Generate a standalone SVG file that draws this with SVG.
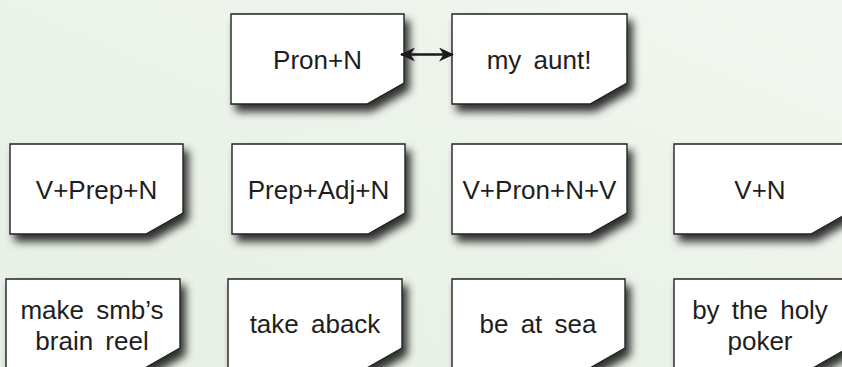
<svg xmlns="http://www.w3.org/2000/svg" width="842" height="367" viewBox="0 0 842 367">
  <defs>
    <linearGradient id="bg" x1="0" y1="1" x2="1" y2="0">
      <stop offset="0" stop-color="#e7f0e4"/>
      <stop offset="0.55" stop-color="#ecf3ea"/>
      <stop offset="1" stop-color="#f3f7f1"/>
    </linearGradient>
    <filter id="shadow" x="-10%" y="-10%" width="130%" height="140%">
      <feGaussianBlur in="SourceAlpha" stdDeviation="4.5"/>
      <feOffset dx="5" dy="7" result="blur"/>
      <feComponentTransfer>
        <feFuncA type="linear" slope="0.8"/>
      </feComponentTransfer>
      <feMerge>
        <feMergeNode/>
        <feMergeNode in="SourceGraphic"/>
      </feMerge>
    </filter>
    <marker id="head" viewBox="0 0 15 14" refX="14" refY="7" markerWidth="15" markerHeight="14" markerUnits="userSpaceOnUse" orient="auto-start-reverse">
      <path d="M0,0 L15,7 L0,14 L4.5,7 Z" fill="#1a1a1a"/>
    </marker>
  </defs>
  <style>
    .card { fill: #ffffff; stroke: #222222; stroke-width: 1.4; filter: url(#shadow); }
    .lbl { font-family: "Liberation Sans", Arial, sans-serif; font-size: 26px; fill: #1e1e1e; text-anchor: middle; word-spacing: 5px; }
    .link { stroke: #1a1a1a; stroke-width: 2.6; fill: none; }
  </style>

  <rect width="842" height="367" fill="url(#bg)"/>

  <!-- top row -->
  <g id="pron-n">
    <path class="card" d="M231,14 H404 V83 L367,104 H231 Z"/>
    <text class="lbl" x="317.5" y="69">Pron+N</text>
  </g>
  <g id="my-aunt">
    <path class="card" d="M452,14 H627 V83 L590,104 H452 Z"/>
    <text class="lbl" x="539" y="69">my aunt!</text>
  </g>

  <!-- middle row: patterns -->
  <g id="v-prep-n">
    <path class="card" d="M10,144 H183 V213 L146,234 H10 Z"/>
    <text class="lbl" x="96.5" y="199">V+Prep+N</text>
  </g>
  <g id="prep-adj-n">
    <path class="card" d="M232,144 H405 V213 L368,234 H232 Z"/>
    <text class="lbl" x="318.5" y="199">Prep+Adj+N</text>
  </g>
  <g id="v-pron-n-v">
    <path class="card" d="M452,144 H627 V213 L590,234 H452 Z"/>
    <text class="lbl" x="539.5" y="199">V+Pron+N+V</text>
  </g>
  <g id="v-n">
    <path class="card" d="M674,144 H848 V213 L811,234 H674 Z"/>
    <text class="lbl" x="760" y="199">V+N</text>
  </g>

  <!-- bottom row: phrases -->
  <g id="brain-reel">
    <path class="card" d="M6,279 H180 V348 L143,369 H6 Z"/>
    <text class="lbl" x="92" y="319">make smb’s</text>
    <text class="lbl" x="92" y="350">brain reel</text>
  </g>
  <g id="take-aback">
    <path class="card" d="M228,279 H402 V348 L365,369 H228 Z"/>
    <text class="lbl" x="315" y="333">take aback</text>
  </g>
  <g id="be-at-sea">
    <path class="card" d="M452,279 H625 V348 L588,369 H452 Z"/>
    <text class="lbl" x="538" y="333">be at sea</text>
  </g>
  <g id="holy-poker">
    <path class="card" d="M674,279 H848 V348 L811,369 H674 Z"/>
    <text class="lbl" x="760" y="319">by the holy</text>
    <text class="lbl" x="760" y="350">poker</text>
  </g>

  <!-- connectors -->
  <g id="connectors">
    <line class="link" x1="401" y1="54.5" x2="453" y2="54.5" marker-start="url(#head)" marker-end="url(#head)"/>
  </g>
</svg>
